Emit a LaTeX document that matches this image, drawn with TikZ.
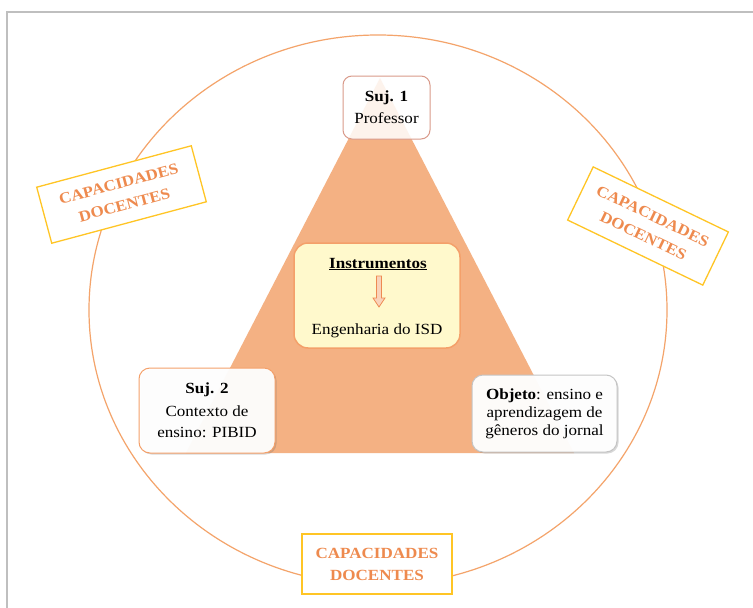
\documentclass[tikz,border=0pt]{standalone}
\usepackage{fontspec}
\setmainfont{Liberation Serif}[FakeStretch=1.1]
\usetikzlibrary{shadows}
\definecolor{framecol}{HTML}{BFBFBF}
\definecolor{ellcol}{HTML}{F4A46B}
\definecolor{tricol}{HTML}{F4B183}
\definecolor{suj1col}{HTML}{D99A8A}
\definecolor{orbord}{HTML}{F4A06A}
\definecolor{graybord}{HTML}{C4C4C4}
\definecolor{instfill}{HTML}{FFF9CC}
\definecolor{arrowcol}{HTML}{EE8A52}
\definecolor{arrowfill}{HTML}{F9D3BA}
\definecolor{capbord}{HTML}{FFC525}
\definecolor{captext}{HTML}{EE8A4E}
\tikzset{
  bodyfont/.style={font=\fontsize{15.5}{21}\selectfont},
  sujbox/.style={rounded corners=9pt, align=center, inner sep=0pt, bodyfont, line width=1pt},
  capbox/.style={draw=capbord, fill=white, line width=1.3pt, align=center, inner sep=0pt,
    text=captext, font=\bfseries\fontsize{15.5}{22}\selectfont},
  softshadow/.style={drop shadow={shadow xshift=1.5pt, shadow yshift=-1.5pt, opacity=0.25, fill=black!60}}
}
\begin{document}
\begin{tikzpicture}[x=1pt,y=-1pt]
\useasboundingbox (0,0) rectangle (753,608);
\fill[white] (0,0) rectangle (753,608);
% frame
\draw[framecol, line width=1.5pt] (7,608) -- (7,12) -- (753,12);
% outer ellipse
\draw[ellcol, line width=1.2pt] (378,310) ellipse [x radius=289, y radius=275];
% triangle
\fill[tricol] (380,78) -- (574,453) -- (186,453) -- cycle;
% Suj. 1
\node[sujbox, draw=suj1col, fill=white, fill opacity=0.85, text opacity=1,
  minimum width=87pt, minimum height=63pt] (suj1) at (386.5,107.5)
  {\textbf{Suj. 1}\\[1pt]Professor};
% Suj. 2
\node[sujbox, rounded corners=11pt, draw=orbord, fill=white, fill opacity=0.95, text opacity=1,
  minimum width=136pt, minimum height=85pt, softshadow] (suj2) at (207,410.5)
  {\textbf{Suj. 2}\\[2pt]Contexto de\\ensino: PIBID};
% Objeto
\node[sujbox, rounded corners=11pt, draw=graybord, fill=white, fill opacity=0.96, text opacity=1,
  minimum width=145pt, minimum height=77pt, softshadow,
  font=\fontsize{15.5}{18}\selectfont] (obj) at (544.5,413.5)
  {\textbf{Objeto}: ensino e\\aprendizagem de\\gêneros do jornal};
% Instrumentos box
\node[rounded corners=14pt, draw=orbord, fill=instfill, line width=1.5pt, inner sep=0pt,
  minimum width=166pt, minimum height=105pt] (inst) at (377,295.5) {};
\node[anchor=base, bodyfont, inner sep=0pt] (instt) at (378,268) {\textbf{\underline{Instrumentos}}};
\node[anchor=base, bodyfont, inner sep=0pt] (eng) at (377,334) {Engenharia do ISD};
\filldraw[arrowcol, fill=arrowfill, line width=0.8pt, line join=miter]
  (376.5,276) -- (381.5,276) -- (381.5,298) -- (385,298) -- (379,307) -- (373,298) -- (376.5,298) -- cycle;
% capacidades boxes
\node[capbox, rotate=15, minimum width=160pt, minimum height=58pt] (capL) at (121.5,194.5)
  {CAPACIDADES\\DOCENTES};
\node[capbox, rotate=-25.7, minimum width=150pt, minimum height=59pt] (capR) at (648,226)
  {CAPACIDADES\\DOCENTES};
\node[capbox, minimum width=150pt, minimum height=60pt] (capB) at (377,564)
  {CAPACIDADES\\DOCENTES};
\end{tikzpicture}
\end{document}
